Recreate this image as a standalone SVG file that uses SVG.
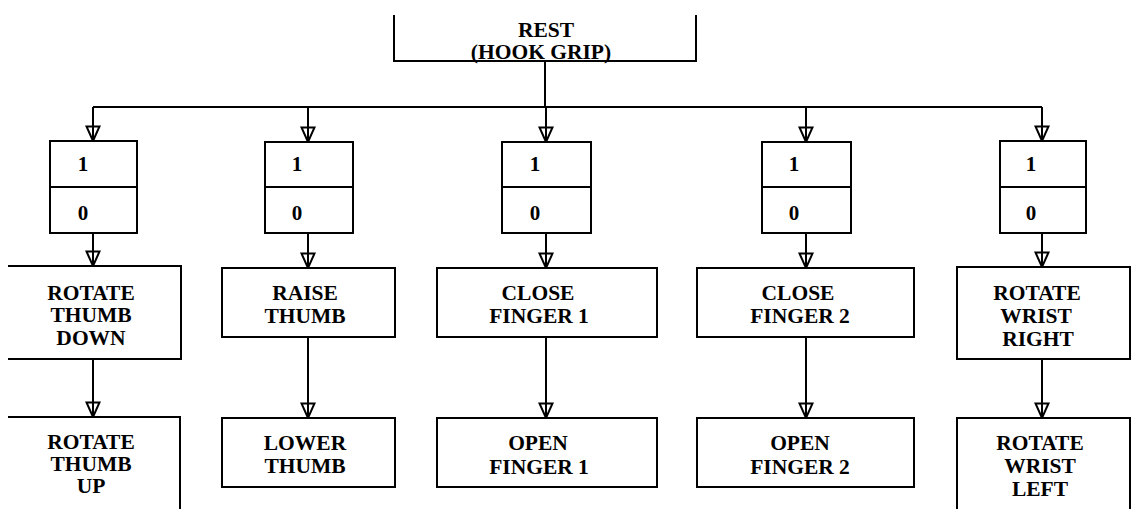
<svg xmlns="http://www.w3.org/2000/svg" width="1132" height="509" viewBox="0 0 1132 509">
  <defs>
    <!-- open triangular arrowhead; the stem runs through to the tip -->
    <marker id="arrow" viewBox="0 0 17 16" refX="16" refY="8" markerWidth="17" markerHeight="16" markerUnits="userSpaceOnUse" orient="auto">
      <path d="M1.5,1.5 L1.5,14.5 L16,8 Z" fill="none" stroke="#000" stroke-width="2" stroke-linejoin="miter"/>
    </marker>
  </defs>
  <style>
    .box { fill: #fff; stroke: #000; stroke-width: 2; }
    .open { fill: none; stroke: #000; stroke-width: 2; }
    .wire { fill: none; stroke: #000; stroke-width: 2; }
    .lbl { font-family: "Liberation Serif", "Times New Roman", serif; font-weight: bold; font-size: 21.5px; fill: #000; text-anchor: middle; }
    .bit { font-family: "Liberation Serif", "Times New Roman", serif; font-weight: bold; font-size: 21px; fill: #000; text-anchor: middle; }
  </style>
  <rect width="1132" height="509" fill="#fff"/>

  <!-- connectors -->
  <g id="connectors">
    <path class="wire" d="M545,61 V107"/>
    <path class="wire" d="M93,107 H1042"/>
    <path class="wire" d="M93,107 V141" marker-end="url(#arrow)"/>
    <path class="wire" d="M308,107 V142" marker-end="url(#arrow)"/>
    <path class="wire" d="M546,107 V142" marker-end="url(#arrow)"/>
    <path class="wire" d="M806,107 V142" marker-end="url(#arrow)"/>
    <path class="wire" d="M1042,107 V141" marker-end="url(#arrow)"/>

    <path class="wire" d="M93,233 V266" marker-end="url(#arrow)"/>
    <path class="wire" d="M308,233 V268" marker-end="url(#arrow)"/>
    <path class="wire" d="M546,233 V268" marker-end="url(#arrow)"/>
    <path class="wire" d="M806,233 V268" marker-end="url(#arrow)"/>
    <path class="wire" d="M1042,233 V267" marker-end="url(#arrow)"/>

    <path class="wire" d="M93,359 V417" marker-end="url(#arrow)"/>
    <path class="wire" d="M308,337 V418" marker-end="url(#arrow)"/>
    <path class="wire" d="M546,337 V418" marker-end="url(#arrow)"/>
    <path class="wire" d="M806,337 V418" marker-end="url(#arrow)"/>
    <path class="wire" d="M1042,359 V418" marker-end="url(#arrow)"/>
  </g>

  <!-- rest state -->
  <g id="rest">
    <path class="open" d="M394,15 V61 H696 V15"/>
    <text class="lbl" x="546" y="37">REST</text>
    <text class="lbl" x="541" y="59">(HOOK GRIP)</text>
  </g>

  <!-- two-state selector switches -->
  <g id="switch-1">
    <rect class="box" x="50" y="141" width="87" height="92"/>
    <path class="wire" d="M50,187 H137"/>
    <text class="bit" x="83" y="171">1</text>
    <text class="bit" x="83" y="220">0</text>
  </g>
  <g id="switch-2">
    <rect class="box" x="265" y="142" width="88" height="91"/>
    <path class="wire" d="M265,187 H353"/>
    <text class="bit" x="297" y="171">1</text>
    <text class="bit" x="297" y="220">0</text>
  </g>
  <g id="switch-3">
    <rect class="box" x="502" y="142" width="89" height="91"/>
    <path class="wire" d="M502,187 H591"/>
    <text class="bit" x="535" y="171">1</text>
    <text class="bit" x="535" y="220">0</text>
  </g>
  <g id="switch-4">
    <rect class="box" x="762" y="142" width="89" height="91"/>
    <path class="wire" d="M762,187 H851"/>
    <text class="bit" x="794" y="171">1</text>
    <text class="bit" x="794" y="220">0</text>
  </g>
  <g id="switch-5">
    <rect class="box" x="1000" y="141" width="86" height="92"/>
    <path class="wire" d="M1000,187 H1086"/>
    <text class="bit" x="1031" y="171">1</text>
    <text class="bit" x="1031" y="220">0</text>
  </g>

  <!-- actions selected by state 1 -->
  <g id="rotate-thumb-down">
    <path class="open" d="M8,266 H181 V359 H8"/>
    <text class="lbl" x="91" y="300">ROTATE</text>
    <text class="lbl" x="91" y="322">THUMB</text>
    <text class="lbl" x="91" y="345">DOWN</text>
  </g>
  <g id="raise-thumb">
    <rect class="box" x="222" y="268" width="173" height="69"/>
    <text class="lbl" x="305" y="300">RAISE</text>
    <text class="lbl" x="305" y="323">THUMB</text>
  </g>
  <g id="close-finger-1">
    <rect class="box" x="437" y="268" width="220" height="69"/>
    <text class="lbl" x="538" y="300">CLOSE</text>
    <text class="lbl" x="539" y="323">FINGER 1</text>
  </g>
  <g id="close-finger-2">
    <rect class="box" x="697" y="268" width="217" height="69"/>
    <text class="lbl" x="798" y="300">CLOSE</text>
    <text class="lbl" x="800" y="323">FINGER 2</text>
  </g>
  <g id="rotate-wrist-right">
    <rect class="box" x="957" y="267" width="173" height="92"/>
    <text class="lbl" x="1037" y="300">ROTATE</text>
    <text class="lbl" x="1036" y="323">WRIST</text>
    <text class="lbl" x="1038" y="346">RIGHT</text>
  </g>

  <!-- actions selected by state 0 -->
  <g id="rotate-thumb-up">
    <path class="open" d="M8,417 H180 V510"/>
    <text class="lbl" x="91" y="449">ROTATE</text>
    <text class="lbl" x="91" y="471">THUMB</text>
    <text class="lbl" x="91" y="493">UP</text>
  </g>
  <g id="lower-thumb">
    <rect class="box" x="222" y="418" width="173" height="69"/>
    <text class="lbl" x="305" y="450">LOWER</text>
    <text class="lbl" x="305" y="473">THUMB</text>
  </g>
  <g id="open-finger-1">
    <rect class="box" x="437" y="418" width="220" height="69"/>
    <text class="lbl" x="538" y="450">OPEN</text>
    <text class="lbl" x="539" y="474">FINGER 1</text>
  </g>
  <g id="open-finger-2">
    <rect class="box" x="697" y="418" width="217" height="69"/>
    <text class="lbl" x="800" y="450">OPEN</text>
    <text class="lbl" x="800" y="474">FINGER 2</text>
  </g>
  <g id="rotate-wrist-left">
    <path class="open" d="M957,510 V418 H1130 V510"/>
    <text class="lbl" x="1040" y="450">ROTATE</text>
    <text class="lbl" x="1040" y="473">WRIST</text>
    <text class="lbl" x="1040" y="496">LEFT</text>
  </g>
</svg>
